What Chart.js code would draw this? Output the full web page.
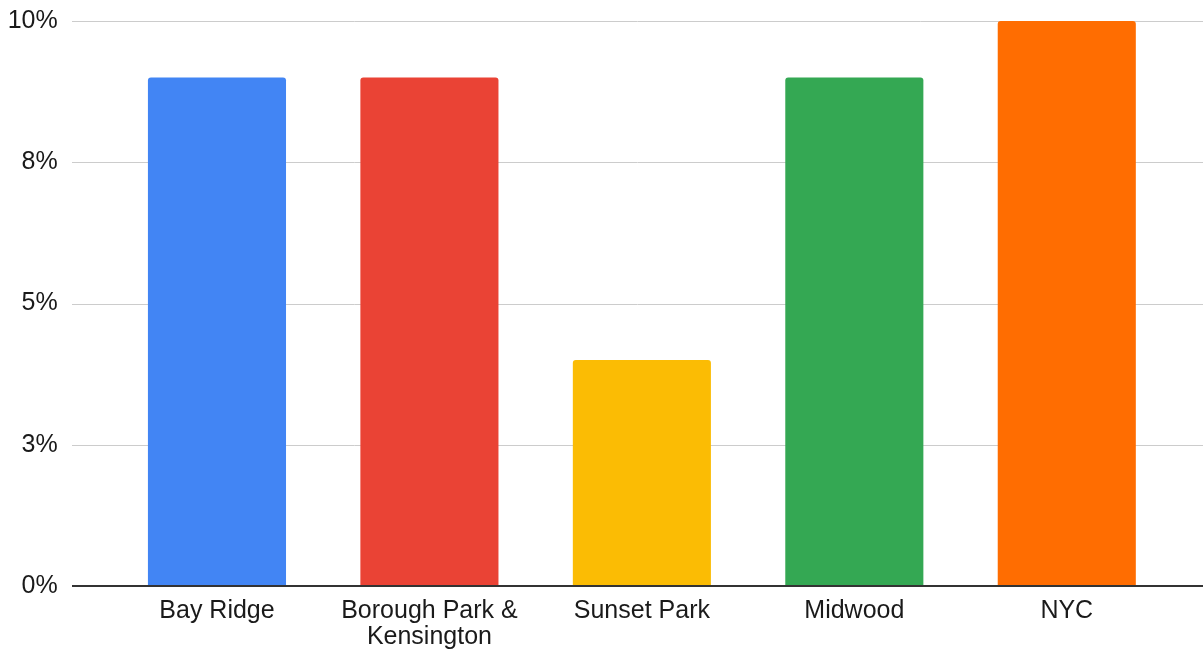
<!DOCTYPE html>
<html>
<head>
<meta charset="utf-8">
<script src="https://cdn.jsdelivr.net/npm/chart.js@4"></script>
<style>
  html, body { margin: 0; padding: 0; background: #fff; }
  #wrap { width: 1203px; height: 651px; }
</style>
</head>
<body>
<div id="wrap"><canvas id="chart"></canvas></div>
<script>
const categories = ['Bay Ridge', ['Borough Park &', 'Kensington'], 'Sunset Park', 'Midwood', 'NYC'];
const values = [9, 9, 4, 9, 10];
const barColors = ['#4285F4', '#EA4335', '#FBBC04', '#34A853', '#FF6D01'];
const yTickLabels = ['0%', '3%', '5%', '8%', '10%'];

// grid lines run wider than the category area, so draw them from the y scale
const wideGrid = {
  id: 'wideGrid',
  beforeDatasetsDraw(chart) {
    const ctx = chart.ctx;
    const y = chart.scales.y;
    ctx.save();
    y.ticks.forEach(function(t) {
      const py = Math.round(y.getPixelForValue(t.value));
      if (t.value === 0) return;
      ctx.strokeStyle = '#cccccc';
      ctx.lineWidth = 1;
      ctx.beginPath();
      ctx.moveTo(72, py + 0.5);
      ctx.lineTo(chart.width, py + 0.5);
      ctx.stroke();
    });
    ctx.restore();
  },
  afterDatasetsDraw(chart) {
    const ctx = chart.ctx;
    const py = Math.round(chart.scales.y.getPixelForValue(0));
    ctx.save();
    ctx.strokeStyle = '#333333';
    ctx.lineWidth = 2;
    ctx.beginPath();
    ctx.moveTo(72, py);
    ctx.lineTo(chart.width, py);
    ctx.stroke();
    ctx.restore();
  }
};

Chart.defaults.font.family = '"Liberation Sans", Arial, sans-serif';
Chart.defaults.color = '#1a1a1a';

new Chart(document.getElementById('chart').getContext('2d'), {
  type: 'bar',
  data: {
    labels: categories,
    datasets: [{
      data: values,
      backgroundColor: barColors,
      borderWidth: 0,
      borderRadius: { topLeft: 3, topRight: 3 },
      borderSkipped: 'start',
      barPercentage: 0.65,
      categoryPercentage: 1
    }]
  },
  options: {
    responsive: true,
    maintainAspectRatio: false,
    animation: false,
    layout: { padding: { top: 21, right: 30, left: 0, bottom: 0 } },
    plugins: { legend: { display: false }, tooltip: { enabled: false } },
    scales: {
      x: {
        grid: { display: false, drawTicks: false },
        border: { display: false },
        ticks: { font: { size: 25, lineHeight: 1.05 }, padding: 12, maxRotation: 0, autoSkip: false },
        afterFit(scale) { scale.height = 65; }
      },
      y: {
        min: 0,
        max: 10,
        grid: { display: false, drawTicks: false },
        border: { display: false },
        ticks: {
          stepSize: 2.5,
          font: { size: 25 },
          padding: 53,
          callback: function(v, i) { return yTickLabels[i]; }
        },
        afterFit(scale) {
          scale.width = 110.75;
          scale.paddingTop = 0;
          scale.paddingBottom = 0;
        }
      }
    }
  },
  plugins: [wideGrid]
});
</script>
</body>
</html>
